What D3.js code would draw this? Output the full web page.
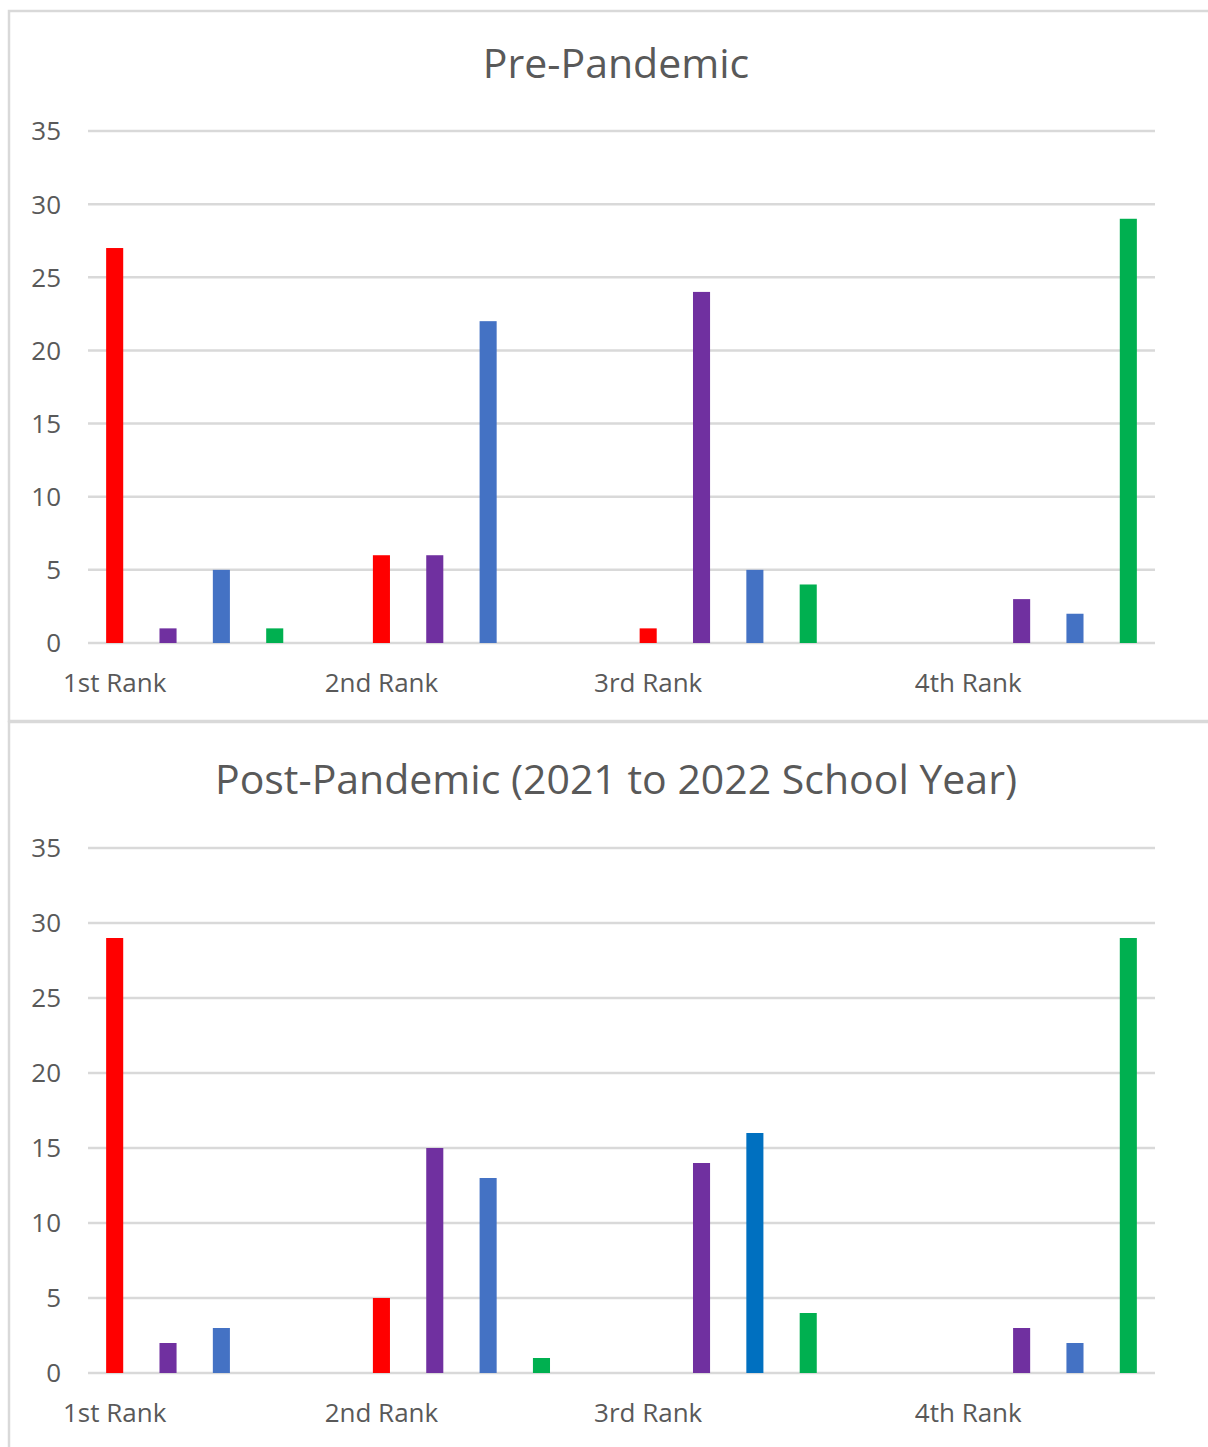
<!DOCTYPE html>
<html>
<head>
<meta charset="utf-8">
<script src="https://cdn.jsdelivr.net/npm/d3@7"></script>
<style>
  html, body { margin: 0; padding: 0; background: #ffffff; }
  svg text { font-family: "Open Sans", "Noto Sans", sans-serif; fill: #595959; }
</style>
</head>
<body>
<svg id="chart" width="1208" height="1447"></svg>
<script>
// Rank categories and the slot each group's first bar occupies (20 slots across the axis)
const ranks = ["1st Rank", "2nd Rank", "3rd Rank", "4th Rank"];
const rankStartSlot = [0, 5, 10, 16];
const slotCount = 20;

// Series, in order within each rank group
const seriesColors = ["#FF0000", "#7030A0", "#4472C4", "#00B050"];

// Pre-pandemic counts: one array per series, one value per rank
const preRed    = [27, 6, 1, 0];
const prePurple = [1, 6, 24, 3];
const preBlue   = [5, 22, 5, 2];
const preGreen  = [1, 0, 4, 29];

// Post-pandemic counts
const postRed    = [29, 5, 0, 0];
const postPurple = [2, 15, 14, 3];
const postBlue   = [3, 13, 16, 2];
const postGreen  = [0, 1, 4, 29];

// Individually recoloured point in the post-pandemic chart (series index, rank index)
const postOverrides = [{ s: 2, r: 2, color: "#0070C0" }];

const yTicks = [0, 5, 10, 15, 20, 25, 30, 35];

const svg = d3.select("#chart");

// Chart area frames
svg.append("rect").attr("x", 9).attr("y", 11).attr("width", 1210).attr("height", 710)
  .attr("fill", "none").attr("stroke", "#d9d9d9").attr("stroke-width", 2.5);
svg.append("rect").attr("x", 9).attr("y", 722).attr("width", 1210).attr("height", 740)
  .attr("fill", "none").attr("stroke", "#d9d9d9").attr("stroke-width", 2.5);

function drawChart(cfg) {
  const g = svg.append("g");
  const x = d3.scaleBand().domain(d3.range(slotCount)).range([88, 1155]).paddingInner(0.68).paddingOuter(0.34);
  const y = d3.scaleLinear().domain([0, 35]).range([cfg.y0, cfg.y35]);

  // Title
  g.append("text").attr("x", 616).attr("y", cfg.titleY).attr("text-anchor", "middle")
    .style("font-size", "41px").text(cfg.title);

  // Gridlines
  g.append("g").selectAll("line").data(yTicks).join("line")
    .attr("x1", 88).attr("x2", 1155)
    .attr("y1", d => y(d)).attr("y2", d => y(d))
    .attr("stroke", "#d9d9d9").attr("stroke-width", 2.5);

  // Y tick labels
  g.append("g").selectAll("text").data(yTicks).join("text")
    .attr("x", 61).attr("y", d => y(d)).attr("dy", "0.36em").attr("text-anchor", "end")
    .style("font-size", "26px").text(d => d);

  // Bars
  const bars = [];
  cfg.series.forEach((vals, s) => {
    vals.forEach((v, r) => {
      const ov = cfg.overrides.find(o => o.s === s && o.r === r);
      bars.push({ slot: rankStartSlot[r] + s, value: v, color: ov ? ov.color : seriesColors[s] });
    });
  });
  g.append("g").selectAll("rect").data(bars.filter(d => d.value > 0)).join("rect")
    .attr("x", d => x(d.slot)).attr("width", x.bandwidth())
    .attr("y", d => y(d.value)).attr("height", d => y(0) - y(d.value))
    .attr("fill", d => d.color);

  // Category labels, centred under each group's first slot
  g.append("g").selectAll("text").data(ranks).join("text")
    .attr("x", (d, i) => x(rankStartSlot[i]) + x.bandwidth() / 2)
    .attr("y", cfg.labelY).attr("text-anchor", "middle")
    .style("font-size", "26px").text(d => d);
}

drawChart({
  title: "Pre-Pandemic", titleY: 78, y0: 643, y35: 131, labelY: 692,
  series: [preRed, prePurple, preBlue, preGreen], overrides: []
});
drawChart({
  title: "Post-Pandemic (2021 to 2022 School Year)", titleY: 794, y0: 1373, y35: 848, labelY: 1422,
  series: [postRed, postPurple, postBlue, postGreen], overrides: postOverrides
});
</script>
</body>
</html>
